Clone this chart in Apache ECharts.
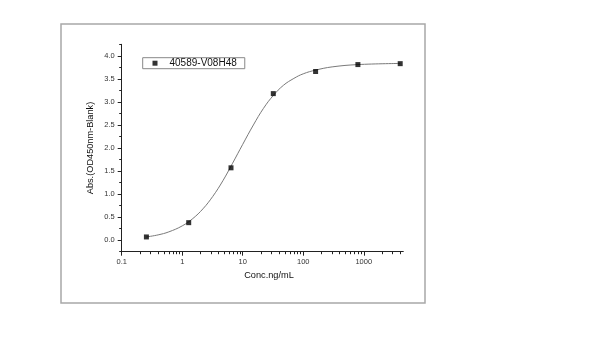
<!DOCTYPE html>
<html>
<head>
<meta charset="utf-8">
<script src="https://cdn.jsdelivr.net/npm/echarts@6/dist/echarts.min.js"></script>
<style>html,body{margin:0;padding:0;background:#fff}#c{width:600px;height:338px}</style>
</head>
<body>
<div id="c"></div>
<script>
// Measured points
var seriesName = '40589-V08H48';
var concValues = [0.256, 1.28, 6.4, 32, 160, 800, 4000];
var absValues = [0.07, 0.38, 1.57, 3.18, 3.66, 3.81, 3.83];
// Fitted curve
var fitConc = [0.256, 0.4, 0.6, 1.0, 1.5, 2.2, 3.2, 4.7, 6.8, 10, 15, 22, 32, 47, 70, 100, 160, 300, 800, 4000];
var fitAbs  = [0.07, 0.115, 0.18, 0.31, 0.47, 0.68, 0.95, 1.29, 1.67, 2.08, 2.50, 2.86, 3.14, 3.36, 3.51, 3.61, 3.69, 3.76, 3.81, 3.835];
// Axis ticks
var xMin = 0.1, xMax = 4500;
var xMajorTicks = [0.1, 1, 10, 100, 1000];
var xMinorTicks = [0.2,0.3,0.4,0.5,0.6,0.7,0.8,0.9,2,3,4,5,6,7,8,9,20,30,40,50,60,70,80,90,200,300,400,500,600,700,800,900,2000,3000,4000];
var yMin = -0.25, yMax = 4.25;
var yMajorTicks = [0, 0.5, 1, 1.5, 2, 2.5, 3, 3.5, 4];
var yMinorTicks = [-0.25, 0.25, 0.75, 1.25, 1.75, 2.25, 2.75, 3.25, 3.75, 4.25];

var FONT = 'Liberation Sans, Arial, sans-serif';
var chart = echarts.init(document.getElementById('c'), null, {renderer: 'canvas'});
var pts = concValues.map(function (v, i) { return [v, absValues[i]]; });
var fit = fitConc.map(function (v, i) { return [v, fitAbs[i]]; });
var axisLineStyle = {color: '#222', width: 1};
var lg = function (arr) { return arr.map(function (v) { return Math.log10(v); }); };

chart.setOption({
  animation: false,
  backgroundColor: '#fff',
  graphic: [{
    type: 'rect', shape: {x: 61, y: 24, width: 364, height: 279},
    style: {fill: 'none', stroke: '#a8a8a8', lineWidth: 1.5}, silent: true, z: 0
  }],
  grid: {left: 121.7, right: 196.7, top: 44.3, bottom: 86.3, containLabel: false},
  legend: {
    data: [seriesName], left: 142.7, top: 57.7, orient: 'horizontal',
    itemWidth: 5, itemHeight: 5, icon: 'rect',
    borderColor: '#888', borderWidth: 1, borderRadius: 0,
    padding: [0, 8, 0, 9.8],
    textStyle: {fontFamily: FONT, fontSize: 10, color: '#111', padding: [0, 0, 0, 7], lineHeight: 11}
  },
  xAxis: [{
    type: 'log', logBase: 10, min: xMin, max: xMax, position: 'bottom',
    name: 'Conc.ng/mL', nameLocation: 'middle', nameGap: 18,
    nameTextStyle: {fontFamily: FONT, fontSize: 9.2, color: '#111', padding: [0, 0, 0, 13]},
    axisLine: {onZero: false, lineStyle: axisLineStyle},
    axisTick: {show: false},
    axisLabel: {fontFamily: FONT, fontSize: 7.5, color: '#333', margin: 6,
      formatter: function (v) { return xMajorTicks.indexOf(v) >= 0 ? String(v) : ''; }},
    splitLine: {show: false}, minorTick: {show: false}
  }, {
    type: 'value', min: Math.log10(xMin), max: Math.log10(xMax), position: 'bottom',
    axisLine: {show: false, onZero: false},
    axisTick: {show: true, length: 2.5, lineStyle: axisLineStyle, customValues: lg(xMinorTicks)},
    axisLabel: {show: false}, splitLine: {show: false}
  }, {
    type: 'value', min: Math.log10(xMin), max: Math.log10(xMax), position: 'bottom',
    axisLine: {show: false, onZero: false},
    axisTick: {show: true, length: 4, lineStyle: axisLineStyle, customValues: lg(xMajorTicks)},
    axisLabel: {show: false}, splitLine: {show: false}
  }],
  yAxis: [{
    type: 'value', min: yMin, max: yMax, interval: 0.25, position: 'left',
    name: 'Abs.(OD450nm-Blank)', nameLocation: 'middle', nameGap: 27, nameRotate: 90,
    nameTextStyle: {fontFamily: FONT, fontSize: 9.2, color: '#111'},
    axisLine: {show: true, onZero: false, lineStyle: axisLineStyle},
    axisTick: {show: true, length: 4, lineStyle: axisLineStyle, customValues: yMajorTicks},
    axisLabel: {fontFamily: FONT, fontSize: 7.5, color: '#333', margin: 7, customValues: yMajorTicks,
      formatter: function (v) { return v.toFixed(1); }},
    splitLine: {show: false}
  }, {
    type: 'value', min: yMin, max: yMax, interval: 0.25, position: 'left',
    axisLine: {show: false, onZero: false},
    axisTick: {show: true, length: 2.5, lineStyle: axisLineStyle, customValues: yMinorTicks},
    axisLabel: {show: false}, splitLine: {show: false}
  }],
  series: [{
    name: 'fit', type: 'line', xAxisIndex: 0, yAxisIndex: 0, data: fit,
    smooth: 0.4, showSymbol: false, symbol: 'none',
    lineStyle: {color: '#7a7a7a', width: 1}, z: 2, silent: true
  }, {
    name: seriesName, type: 'scatter', xAxisIndex: 0, yAxisIndex: 0, data: pts,
    symbol: 'rect', symbolSize: 5, itemStyle: {color: '#000'}, z: 3
  }]
});
</script>
</body>
</html>
